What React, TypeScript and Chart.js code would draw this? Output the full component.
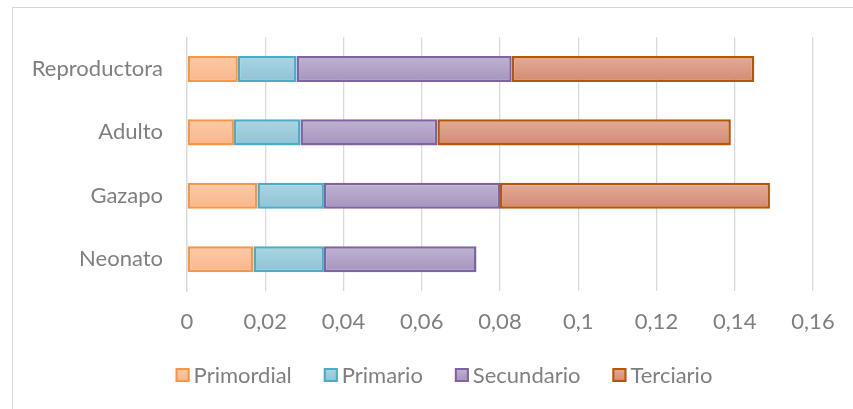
import React, { useEffect, useRef } from 'react';
import { Chart, registerables } from 'chart.js';

Chart.register(...registerables);

const categories = ['Reproductora', 'Adulto', 'Gazapo', 'Neonato'];
const seriesNames = ['Primordial', 'Primario', 'Secundario', 'Terciario'];
const primordial = [0.013, 0.012, 0.018, 0.017];
const primario = [0.015, 0.017, 0.017, 0.018];
const secundario = [0.055, 0.035, 0.045, 0.039];
const terciario: (number | null)[] = [0.062, 0.075, 0.069, null];
const xTickLabels = ['0', '0,02', '0,04', '0,06', '0,08', '0,1', '0,12', '0,14', '0,16'];

const seriesValues = [primordial, primario, secundario, terciario];
const fillTop = ['#fdcaa8', '#acd5e2', '#bfb4d1', '#e3ac9a'];
const fillBottom = ['#f9b68a', '#8ec3d5', '#a593bd', '#d38a71'];
const borderColors = ['#f79646', '#4bacc6', '#8064a2', '#b65708'];

const FONT = 'Lato, "Open Sans", sans-serif';
const TEXT = '#7f7f7f';
const BAR_PCT = 0.41;

function makeFill(i: number) {
  return (ctx: any) => {
    const chart = ctx.chart;
    const y = chart.scales && chart.scales.y;
    if (!y || ctx.dataIndex === undefined) return fillBottom[i];
    const c = y.getPixelForValue(ctx.dataIndex);
    const half = (y.height / categories.length) * BAR_PCT / 2;
    if (!isFinite(c)) return fillBottom[i];
    const g = chart.ctx.createLinearGradient(0, c - half, 0, c + half);
    g.addColorStop(0, fillTop[i]);
    g.addColorStop(1, fillBottom[i]);
    return g;
  };
}

const legendPlugin = {
  id: 'customLegend',
  afterDraw(chart: any) {
    const ctx = chart.ctx;
    ctx.save();
    ctx.font = `22px ${FONT}`;
    ctx.textBaseline = 'middle';
    const box = 14;
    const gap = 4;
    const spacing = 32;
    const widths = seriesNames.map((n) => ctx.measureText(n).width);
    const total = widths.reduce((a, w) => a + box + gap + w, 0) + spacing * (seriesNames.length - 1);
    let x = 444 - total / 2;
    const yc = 375;
    seriesNames.forEach((name, i) => {
      const g = ctx.createLinearGradient(0, yc - box / 2, 0, yc + box / 2);
      g.addColorStop(0, fillTop[i]);
      g.addColorStop(1, fillBottom[i]);
      ctx.fillStyle = g;
      ctx.fillRect(x, yc - box / 2, box, box);
      ctx.strokeStyle = borderColors[i];
      ctx.lineWidth = 2;
      ctx.strokeRect(x + 1, yc - box / 2 + 1, box - 2, box - 2);
      ctx.fillStyle = TEXT;
      ctx.fillText(name, x + box + gap, yc + 1);
      x += box + gap + widths[i] + spacing;
    });
    ctx.restore();
  },
};

export default function App() {
  const ref = useRef<HTMLCanvasElement | null>(null);

  useEffect(() => {
    if (!ref.current) return;
    const chart = new Chart(ref.current, {
      type: 'bar',
      data: {
        labels: categories,
        datasets: seriesNames.map((name, i) => ({
          label: name,
          data: seriesValues[i],
          backgroundColor: makeFill(i),
          borderColor: borderColors[i],
          borderWidth: 2.5,
          borderSkipped: false,
          barPercentage: BAR_PCT,
          categoryPercentage: 1,
        })),
      },
      options: {
        indexAxis: 'y',
        animation: false,
        responsive: true,
        maintainAspectRatio: false,
        layout: { padding: { top: 36, right: 40, left: 0, bottom: 0 } },
        plugins: {
          legend: { display: false },
          tooltip: { enabled: false },
        },
        scales: {
          x: {
            stacked: true,
            min: 0,
            max: 0.16,
            ticks: {
              stepSize: 0.02,
              color: TEXT,
              font: { family: FONT, size: 22 },
              padding: 18,
              maxRotation: 0,
              autoSkip: false,
              callback: (_v: any, index: number) => xTickLabels[index],
            },
            grid: { color: '#d9d9d9', lineWidth: 1.3, drawTicks: false },
            border: { display: false },
            afterFit: (scale: any) => {
              scale.height = 118;
            },
          },
          y: {
            stacked: true,
            ticks: {
              color: TEXT,
              font: { family: FONT, size: 22 },
              padding: 24,
            },
            grid: { display: false, drawTicks: false },
            border: { display: true, color: '#d9d9d9', width: 1.3 },
            afterFit: (scale: any) => {
              scale.width = 187;
            },
          },
        },
      },
      plugins: [legendPlugin],
    });
    return () => chart.destroy();
  }, []);

  return (
    <div style={{ position: 'absolute', left: 0, top: 0, width: 853, height: 409, background: '#fff' }}>
      <div
        style={{
          position: 'absolute',
          left: 12,
          top: 7,
          right: 0,
          bottom: 0,
          borderLeft: '1px solid #d6d6d6',
          borderTop: '1px solid #d6d6d6',
        }}
      />
      <div style={{ position: 'absolute', left: 0, top: 0, width: 853, height: 409 }}>
        <canvas ref={ref} />
      </div>
    </div>
  );
}
